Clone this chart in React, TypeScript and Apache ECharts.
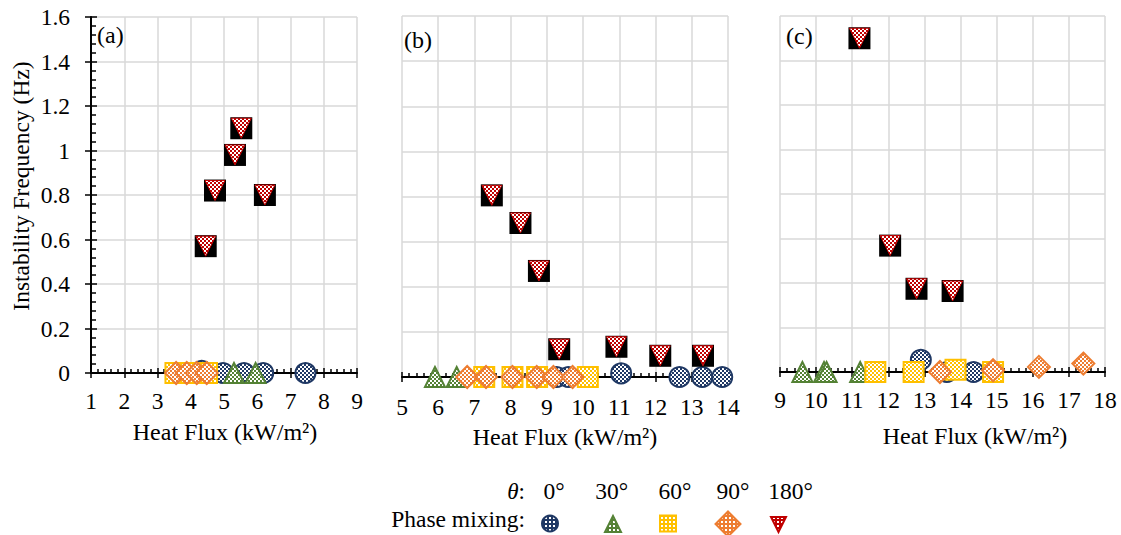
import { useEffect, useRef } from "react";
import * as echarts from "echarts";

const FONT = "Liberation Serif";
const NAVY = "#1f3864";
const GREEN = "#548235";
const GOLD = "#ffc000";
const ORANGE = "#ed7d31";
const RED = "#c00000";
const GRID = "#d9d9d9";

// Heat-flux ranges of the three panels and the shared frequency range
const panelNames = ["(a)", "(b)", "(c)"];
const xRanges = [
  [1, 9],
  [5, 14],
  [9, 18],
];
const yMin = 0;
const yMax = 1.6;
const yStep = 0.2;

// Inclination angles (legend)
const thetaLabels = ["0°", "30°", "60°", "90°", "180°"];

// Panel (a): [heat flux, instability frequency]
const aDeg0 = [[4.33, 0.01], [4.97, 0], [5.6, 0], [6.18, 0], [7.45, 0]];
const aDeg30 = [[5.3, 0], [5.95, 0]];
const aDeg60 = [[3.54, 0], [4.0, 0], [4.49, 0]];
const aDeg90 = [[3.56, 0], [3.88, 0], [4.18, 0], [4.48, 0]];
const aDeg180 = [[4.45, 0.57], [4.73, 0.82], [5.33, 0.98], [5.52, 1.1], [6.23, 0.8]];

// Panel (b)
const bDeg0 = [[9.27, 0], [9.59, 0], [11.05, 0.016], [12.66, 0], [13.29, 0], [13.84, 0]];
const bDeg30 = [[5.91, 0], [6.51, 0]];
const bDeg60 = [[7.27, 0], [8.05, 0], [8.73, 0], [10.13, 0]];
const bDeg90 = [[6.8, 0], [7.32, 0], [8.05, 0], [8.72, 0], [9.18, 0], [9.71, 0]];
const bDeg180 = [[7.48, 0.805], [8.27, 0.683], [8.78, 0.47], [9.34, 0.123], [10.92, 0.134], [12.13, 0.094], [13.31, 0.094]];

// Panel (c)
const cDeg0 = [[12.9, 0.055], [13.62, 0], [14.36, 0]];
const cDeg30 = [[9.62, 0], [10.22, 0], [10.29, 0], [11.22, 0]];
const cDeg60 = [[11.64, 0], [12.7, 0], [13.86, 0.01], [14.9, 0]];
const cDeg90 = [[13.43, 0], [14.9, 0.008], [16.17, 0.023], [17.4, 0.038]];
const cDeg180 = [[11.2, 1.5], [12.05, 0.568], [12.78, 0.374], [13.78, 0.364]];

const panelData = [
  [aDeg0, aDeg30, aDeg60, aDeg90, aDeg180],
  [bDeg0, bDeg30, bDeg60, bDeg90, bDeg180],
  [cDeg0, cDeg30, cDeg60, cDeg90, cDeg180],
];

function pattern(size: number, bg: string, fg: string, blocks: number[][]) {
  const c = document.createElement("canvas");
  c.width = size;
  c.height = size;
  const g = c.getContext("2d")!;
  g.fillStyle = bg;
  g.fillRect(0, 0, size, size);
  g.fillStyle = fg;
  blocks.forEach(([x, y, w, h]) => g.fillRect(x, y, w, h));
  return { image: c.toDataURL(), repeat: "repeat", imageWidth: size, imageHeight: size };
}

const checker = (fg: string) => pattern(4, "#ffffff", fg, [[0, 0, 2, 2], [2, 2, 2, 2]]);
const dotted = (fg: string) => pattern(4, fg, "#ffffff", [[1, 1, 2, 2]]);

// One marker per inclination: circle, triangle, square, diamond, inverted triangle on a black tile
function marker(kind: number, cx: number, cy: number, s: number, fills: any[], tile: boolean): any {
  const colors = [NAVY, GREEN, GOLD, ORANGE, RED];
  const style = { fill: fills[kind], stroke: colors[kind], lineWidth: 2 };
  switch (kind) {
    case 0:
      return { type: "circle", shape: { cx, cy, r: s - 1 }, style };
    case 1:
      return {
        type: "polygon",
        shape: { points: [[cx, cy - s + 1], [cx + s - 1, cy + s - 1], [cx - s + 1, cy + s - 1]] },
        style,
      };
    case 2:
      return { type: "rect", shape: { x: cx - s + 1, y: cy - s + 1, width: 2 * s - 2, height: 2 * s - 2 }, style };
    case 3:
      return {
        type: "polygon",
        shape: { points: [[cx, cy - s], [cx + s, cy], [cx, cy + s], [cx - s, cy]] },
        style,
      };
    default: {
      const tri = {
        type: "polygon",
        shape: { points: [[cx - s + 1, cy - s + 1], [cx + s - 1, cy - s + 1], [cx, cy + s - 1]] },
        style: { fill: fills[4], stroke: RED, lineWidth: tile ? 1 : 2 },
      };
      if (!tile) return tri;
      return {
        type: "group",
        children: [
          { type: "rect", shape: { x: cx - s, y: cy - s, width: 2 * s, height: 2 * s }, style: { fill: "#000" } },
          tri,
        ],
      };
    }
  }
}

function buildOption() {
  const plotFills = [checker(NAVY), checker(GREEN), checker(GOLD), checker(ORANGE), checker(RED)];
  const legendFills = [dotted(NAVY), dotted(GREEN), dotted(GOLD), dotted(ORANGE), dotted(RED)];

  const rects = [
    { left: 91, top: 17, width: 266, height: 356 },
    { left: 402, top: 16, width: 326, height: 361 },
    { left: 780, top: 16, width: 325, height: 356 },
  ];
  const grid = rects.map((r) => ({ ...r, containLabel: false, outerBoundsMode: "none" }));

  const black = { color: "#000", width: 1.5 };
  const labelFont = { color: "#000", fontSize: 23.5, fontFamily: FONT };
  const labelMargins = [16, 18, 16];

  const xAxis: any[] = [];
  xRanges.forEach(([min, max], i) => {
    const base = { type: "value", gridIndex: i, min, max, interval: 1 };
    // axis line, outer ticks and labels
    xAxis.push({
      ...base,
      position: "bottom",
      z: 1,
      axisLine: { show: true, onZero: false, lineStyle: { color: "#000", width: 2 } },
      axisTick: { show: true, length: 5, lineStyle: black },
      minorTick: { show: false },
      axisLabel: { show: true, margin: labelMargins[i], ...labelFont },
      splitLine: { show: false },
    });
    // inner ticks and minor ticks
    xAxis.push({
      ...base,
      position: "top",
      offset: -rects[i].height,
      z: 1,
      axisLine: { show: false, onZero: false },
      axisTick: { show: true, length: 5, lineStyle: black },
      minorTick: { show: true, splitNumber: 5, length: 4, lineStyle: black },
      axisLabel: { show: false },
      splitLine: { show: false },
    });
    // vertical gridlines
    xAxis.push({
      ...base,
      position: "bottom",
      z: 0,
      axisLine: { show: false, onZero: false },
      axisTick: { show: false },
      axisLabel: { show: false },
      splitLine: { show: true, lineStyle: { color: GRID, width: 1.5 } },
    });
  });

  const yBase = { type: "value", min: yMin, max: yMax, interval: yStep };
  const yGridOnly = (gridIndex: number) => ({
    ...yBase,
    gridIndex,
    z: 0,
    axisLine: { show: false, onZero: false },
    axisTick: { show: false },
    axisLabel: { show: false },
    splitLine: { show: true, lineStyle: { color: GRID, width: 1.5 } },
  });
  const yAxis: any[] = [
    {
      ...yBase,
      gridIndex: 0,
      position: "left",
      z: 1,
      axisLine: { show: true, onZero: false, lineStyle: { color: "#000", width: 2 } },
      axisTick: { show: true, length: 6, lineStyle: black },
      minorTick: { show: false },
      axisLabel: { show: true, margin: 21, ...labelFont },
      splitLine: { show: false },
    },
    {
      ...yBase,
      gridIndex: 0,
      position: "right",
      offset: -rects[0].width,
      z: 1,
      axisLine: { show: false, onZero: false },
      axisTick: { show: true, length: 6, lineStyle: black },
      minorTick: { show: true, splitNumber: 5, length: 5, lineStyle: black },
      axisLabel: { show: false },
      splitLine: { show: false },
    },
    yGridOnly(0),
    yGridOnly(1),
    yGridOnly(2),
  ];

  const axisIdx = [
    [0, 0],
    [3, 3],
    [6, 4],
  ];

  const series: any[] = [];
  panelData.forEach((sets, p) => {
    sets.forEach((data, k) => {
      series.push({
        type: "custom",
        name: thetaLabels[k],
        xAxisIndex: axisIdx[p][0],
        yAxisIndex: axisIdx[p][1],
        data,
        encode: { x: 0, y: 1 },
        clip: false,
        silent: true,
        z: 2,
        renderItem: (_params: any, api: any) => {
          const pt = api.coord([api.value(0), api.value(1)]);
          return marker(k, pt[0], pt[1], 11, plotFills, true);
        },
      });
    });
  });

  const txt = (text: string, x: number, y: number, align: string, size: number, extra: any = {}) => ({
    type: "text",
    x,
    y,
    silent: true,
    ...extra,
    style: {
      text,
      fill: "#000",
      fontSize: size,
      fontFamily: FONT,
      textAlign: align,
      textVerticalAlign: "middle",
      align,
      verticalAlign: "middle",
      ...(extra.style || {}),
    },
  });

  const titleX = [225, 565, 975];
  const titleY = [432, 437, 435.5];
  const tagPos = [
    [97, 35],
    [404, 40],
    [786, 36],
  ];
  const thetaX = [554, 611.7, 675, 733, 790.5];
  const markerPos = [
    [550, 523.5, 9],
    [613, 524, 9],
    [668, 523.5, 9],
    [728, 524, 12.5],
    [778.5, 524.5, 8.5],
  ];

  const graphic: any[] = [
    txt("Instability Frequency (Hz)", 21, 186, "center", 23.5, { rotation: Math.PI / 2 }),
    ...titleX.map((x, i) => txt("Heat Flux (kW/m²)", x, titleY[i], "center", 24)),
    ...panelNames.map((n, i) => txt(n, tagPos[i][0], tagPos[i][1], "left", 24)),
    txt("{i|θ}:", 525, 491, "right", 23, {
      style: { rich: { i: { fontStyle: "italic", fontSize: 23, fontFamily: FONT, fill: "#000" } } },
    }),
    ...thetaLabels.map((t, i) => txt(t, thetaX[i], 491, "center", 23.5)),
    txt("Phase mixing:", 525, 518.5, "right", 23.5),
    ...markerPos.map(([x, y, s], k) => ({ ...marker(k, x, y, s, legendFills, false), silent: true })),
  ];

  return {
    animation: false,
    backgroundColor: "#ffffff",
    textStyle: { fontFamily: FONT },
    grid,
    xAxis,
    yAxis,
    series,
    graphic,
  };
}

export default function App() {
  const ref = useRef<HTMLDivElement>(null);
  useEffect(() => {
    if (!ref.current) return;
    const chart = echarts.init(ref.current, null, { renderer: "svg" });
    chart.setOption(buildOption() as any);
    return () => chart.dispose();
  }, []);
  return (
    <div
      ref={ref}
      style={{ position: "fixed", left: 0, top: 0, width: 1121, height: 535, background: "#fff" }}
    />
  );
}
